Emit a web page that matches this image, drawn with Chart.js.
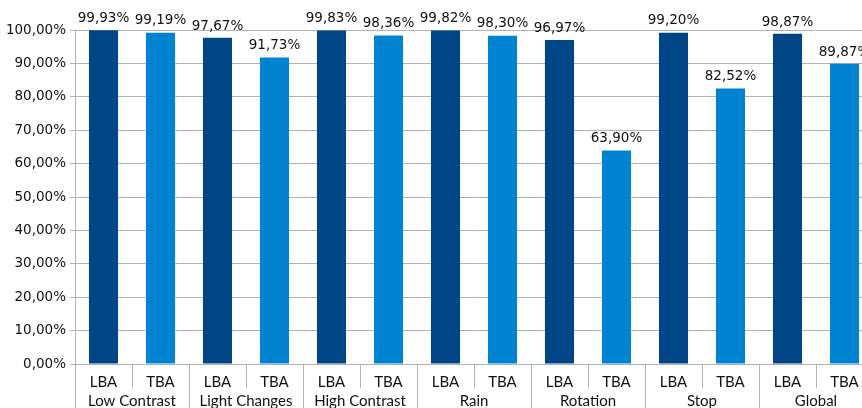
<!DOCTYPE html>
<html>
<head>
<meta charset="utf-8">
<script src="https://cdn.jsdelivr.net/npm/chart.js@4"></script>
<style>
  html, body { margin: 0; padding: 0; overflow: hidden; background: #fff; }
  #wrap { width: 873px; height: 408px; }
</style>
</head>
<body>
<div id="wrap"><canvas id="chart"></canvas></div>
<script>
/* =========================
   DATA
========================= */
const groups = ["Low Contrast", "Light Changes", "High Contrast", "Rain", "Rotation", "Stop", "Global"];
const methods = ["LBA", "TBA"];
const lbaValues = [99.93, 97.67, 99.83, 99.82, 96.97, 99.20, 98.87];
const tbaValues = [99.19, 91.73, 98.36, 98.30, 63.90, 82.52, 89.87];
const yTicks = [0, 10, 20, 30, 40, 50, 60, 70, 80, 90, 100];

const DARK = "#004586";
const LIGHT = "#0084d1";
const GRID = "#b3b3b3";
const FONT = "'DejaVu Sans', sans-serif";
const XFONT = "Lato, 'DejaVu Sans', sans-serif";

/* =========================
   BUILD FLAT SERIES
========================= */
const labels = [];
const values = [];
const colors = [];
groups.forEach((g, i) => {
  labels.push(g + " LBA");
  values.push(lbaValues[i]);
  colors.push(DARK);
  labels.push(g + " TBA");
  values.push(tbaValues[i]);
  colors.push(LIGHT);
});

function pct(v) {
  return v.toFixed(2).replace(".", ",") + "%";
}

/* =========================
   PLUGIN: LABELS + AXIS
========================= */
const decorPlugin = {
  id: "decor",
  afterDatasetsDraw(chart) {
    const ctx = chart.ctx;
    const meta = chart.getDatasetMeta(0);
    ctx.save();
    ctx.fillStyle = "#111";
    ctx.font = "13.5px " + FONT;
    ctx.textAlign = "center";
    ctx.textBaseline = "bottom";
    meta.data.forEach((bar, i) => {
      ctx.fillText(pct(values[i]), bar.x, bar.y - 5);
    });
    ctx.restore();
  },
  afterDraw(chart) {
    const ctx = chart.ctx;
    const xs = chart.scales.x;
    const area = chart.chartArea;
    const slot = (area.right - area.left) / labels.length;
    const H = chart.height;

    ctx.save();
    ctx.strokeStyle = GRID;
    ctx.lineWidth = 1;
    for (let i = 0; i <= labels.length; i++) {
      const x = Math.round(area.left + i * slot) + 0.5;
      const yEnd = i % 2 === 0 ? H : area.bottom + 24;
      ctx.beginPath();
      ctx.moveTo(x, area.bottom);
      ctx.lineTo(x, yEnd);
      ctx.stroke();
    }

    ctx.fillStyle = "#111";
    ctx.font = "15px " + XFONT;
    ctx.textAlign = "center";
    ctx.textBaseline = "middle";
    labels.forEach((l, i) => {
      const x = xs.getPixelForValue(i);
      ctx.fillText(methods[i % 2], x, area.bottom + 18);
    });
    groups.forEach((g, i) => {
      const x = area.left + (i * 2 + 1) * slot;
      ctx.fillText(g, x, area.bottom + 37);
    });
    ctx.restore();
  }
};

/* =========================
   CHART
========================= */
new Chart(document.getElementById("chart"), {
  type: "bar",
  data: {
    labels: labels,
    datasets: [{
      data: values,
      backgroundColor: colors,
      borderWidth: 0,
      categoryPercentage: 1,
      barPercentage: 0.51
    }]
  },
  options: {
    responsive: true,
    maintainAspectRatio: false,
    animation: false,
    layout: { padding: { top: 30, left: 0, right: 0, bottom: 0 } },
    plugins: {
      legend: { display: false },
      tooltip: { enabled: false }
    },
    scales: {
      x: {
        ticks: { display: false },
        grid: { display: false },
        border: { display: false },
        afterFit(scale) { scale.height = 44; }
      },
      y: {
        min: 0,
        max: 100,
        afterBuildTicks(scale) {
          scale.ticks = yTicks.map(v => ({ value: v }));
        },
        ticks: {
          color: "#111",
          font: { family: FONT, size: 13.5 },
          padding: 4,
          callback: v => pct(v)
        },
        grid: { color: GRID, tickLength: 5 },
        border: { display: true, color: GRID },
        afterFit(scale) { scale.width = 75; }
      }
    }
  },
  plugins: [decorPlugin]
});
</script>
</body>
</html>
